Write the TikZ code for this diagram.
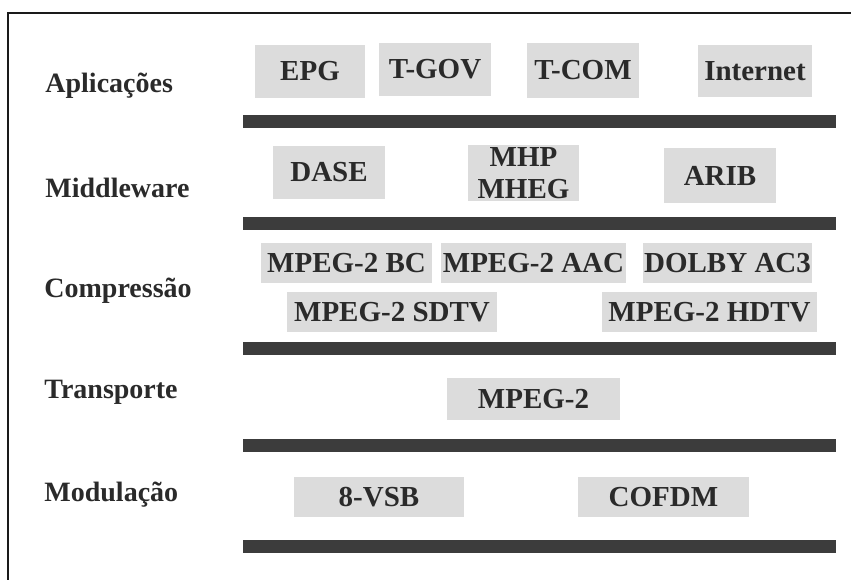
\documentclass[tikz,border=0pt]{standalone}
\usepackage{fontspec}
\setmainfont{Liberation Serif}
\usepackage{tikz}
\usetikzlibrary{positioning}
\definecolor{clBox}{HTML}{DCDCDC}
\definecolor{clBar}{HTML}{3C3C3C}
\definecolor{clText}{HTML}{2A2A2A}
\definecolor{clFrame}{HTML}{1A1A1A}
\tikzset{
  box/.style={rectangle, fill=clBox, inner sep=0pt, align=center,
              minimum height=20pt, text=clText,
              font=\fontsize{14.5}{16}\selectfont\bfseries},
  layer/.style={anchor=base west, inner sep=0pt, text=clText,
                font=\fontsize{14}{15}\selectfont\bfseries},
  bar/.style={rectangle, fill=clBar, inner sep=0pt,
              minimum width=296.5pt, minimum height=6.5pt},
  frame/.style={line width=1pt, draw=clFrame},
}

\begin{document}
\begin{tikzpicture}[x=0.5pt, y=-0.5pt]
  \useasboundingbox (0,0) rectangle (851,580);
  \draw[frame] (851,13) -- (8,13) -- (8,580);

  % layer names
  \node[layer] (lApp)   at (45,92)  {Aplicações};
  \node[layer] (lMid)   at (45,197) {Middleware};
  \node[layer] (lComp)  at (44,297) {Compressão};
  \node[layer] (lTrans) at (44,398) {Transporte};
  \node[layer] (lMod)   at (44,501) {Modulação};

  % separators
  \node[bar] (bar1) at (539.5,121)   {};
  \node[bar] (bar2) at (539.5,223.5) {};
  \node[bar] (bar3) at (539.5,348.5) {};
  \node[bar] (bar4) at (539.5,445.5) {};
  \node[bar] (bar5) at (539.5,546.5) {};

  % aplicacoes
  \node[box, minimum width=55pt, minimum height=26.5pt] (epg)  at (310,71.5) {EPG};
  \node[box, minimum width=56pt, minimum height=26.5pt] (tgov) at (435,69.5) {T-GOV};
  \node[box, minimum width=56pt, minimum height=27.5pt] (tcom) at (583,70.5) {T-COM};
  \node[box, minimum width=57pt, minimum height=26pt]   (inet) at (755,71)   {Internet};

  % middleware
  \node[box, minimum width=56pt,   minimum height=26.5pt] (dase) at (329,172.5) {DASE};
  \node[box, minimum width=55.5pt, minimum height=28pt]   (mhp)  at (523.5,173) {MHP\\MHEG};
  \node[box, minimum width=56pt,   minimum height=27.5pt] (arib) at (720,175.5) {ARIB};

  % compressao
  \node[box, minimum width=85.5pt]  (bc)   at (346.5,263) {MPEG-2 BC};
  \node[box, minimum width=92.5pt]  (aac)  at (533.5,263) {MPEG-2 AAC};
  \node[box, minimum width=84.5pt]  (ac3)  at (727.5,263) {DOLBY AC3};
  \node[box, minimum width=105pt]   (sdtv) at (392,312)   {MPEG-2 SDTV};
  \node[box, minimum width=107.5pt] (hdtv) at (709.5,312) {MPEG-2 HDTV};

  % transporte
  \node[box, minimum width=86.5pt, minimum height=21pt] (ts) at (533.5,399) {MPEG-2};

  % modulacao
  \node[box, minimum width=85pt]   (vsb)   at (379,497)   {8-VSB};
  \node[box, minimum width=85.5pt] (cofdm) at (663.5,497) {COFDM};
\end{tikzpicture}
\end{document}
